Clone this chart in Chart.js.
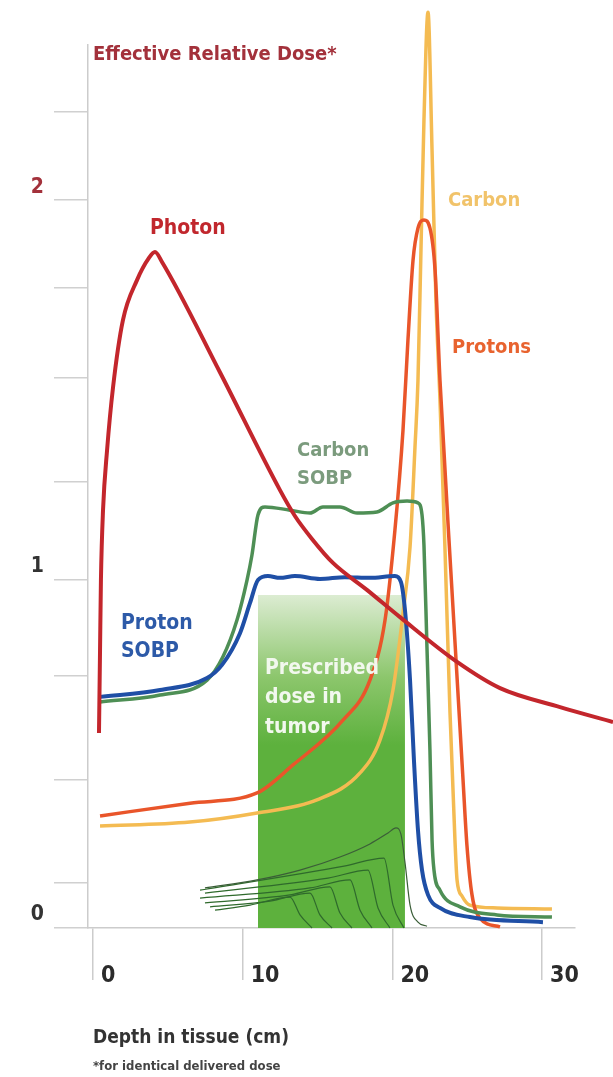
<!DOCTYPE html>
<html>
<head>
<meta charset="utf-8">
<script src="https://cdn.jsdelivr.net/npm/chart.js@4.4.0/dist/chart.umd.min.js"></script>
<style>
  html, body { margin: 0; padding: 0; background: #fff; }
  #wrap { width: 613px; height: 1077px; position: relative; }
</style>
</head>
<body>
<div id="wrap"><canvas id="chart"></canvas></div>
<script>
// ===== Data (depth in cm, effective relative dose) =====
let photonDepth = [0.40, 0.47, 0.53, 0.67, 0.94, 1.34, 2.00, 2.94, 3.74, 4.14, 4.61, 8.48, 12.49, 13.49, 14.63, 16.03, 18.30, 20.51, 24.32, 27.19, 31.20, 34.74];
let photonDose  = [0.536, 0.764, 0.956, 1.148, 1.313, 1.486, 1.670, 1.780, 1.841, 1.857, 1.830, 1.527, 1.203, 1.132, 1.069, 1.003, 0.929, 0.854, 0.731, 0.659, 0.607, 0.566];

let protonSobpDepth = [0.47, 4.48, 7.62, 8.62, 9.82, 10.49, 11.02, 11.69, 12.49, 13.49, 15.16, 16.83, 18.50, 20.17, 20.57, 20.84, 21.18, 21.44, 21.71, 21.98, 22.38, 23.18, 25.18, 30.06];
let protonSobpDose  = [0.635, 0.654, 0.687, 0.723, 0.810, 0.893, 0.956, 0.967, 0.962, 0.967, 0.959, 0.964, 0.962, 0.967, 0.951, 0.874, 0.681, 0.462, 0.269, 0.159, 0.091, 0.055, 0.030, 0.016];

let carbonSobpDepth = [0.47, 4.48, 7.62, 8.68, 9.62, 10.29, 10.62, 11.02, 11.49, 13.16, 14.50, 15.36, 16.50, 17.64, 18.97, 20.04, 20.98, 21.71, 21.98, 22.11, 22.31, 22.51, 22.65, 22.78, 23.18, 24.52, 26.99, 30.66];
let carbonSobpDose  = [0.621, 0.640, 0.681, 0.745, 0.846, 0.956, 1.025, 1.135, 1.157, 1.148, 1.140, 1.157, 1.157, 1.140, 1.143, 1.168, 1.173, 1.168, 1.135, 1.052, 0.772, 0.489, 0.242, 0.159, 0.104, 0.058, 0.036, 0.030];

let carbonDepth = [0.47, 6.48, 10.96, 14.96, 17.84, 19.17, 20.04, 20.71, 21.18, 21.51, 21.71, 21.91, 22.11, 22.38, 22.65, 22.91, 23.18, 23.51, 23.85, 24.18, 24.32, 24.65, 25.18, 26.99, 30.66];
let carbonDose  = [0.280, 0.291, 0.316, 0.352, 0.426, 0.516, 0.654, 0.865, 1.047, 1.321, 1.505, 1.863, 2.220, 2.516, 2.137, 1.725, 1.451, 1.047, 0.591, 0.242, 0.132, 0.088, 0.063, 0.055, 0.052];

let protonDepth = [0.47, 6.48, 10.96, 13.36, 16.70, 18.50, 19.51, 20.17, 20.71, 21.04, 21.38, 21.71, 22.11, 22.51, 22.85, 23.18, 23.98, 24.72, 24.98, 25.32, 25.85, 27.19];
let protonDose  = [0.308, 0.343, 0.371, 0.448, 0.571, 0.681, 0.846, 1.093, 1.368, 1.615, 1.835, 1.923, 1.945, 1.923, 1.808, 1.505, 0.928, 0.407, 0.228, 0.091, 0.027, 0.003];

// prescribed dose region (tumour)
let tumorDepth = [11.02, 20.84];
let tumorDose  = [0.915, 0.915];

// individual pristine peaks that add up to the SOBP
let pristineDepths = [
  [7.48, 10.96, 13.83, 16.50, 18.50, 19.71, 20.24, 20.57, 20.84, 21.18, 21.71, 22.31],
  [8.15, 10.49, 13.16, 13.83, 14.63],
  [7.82, 11.82, 14.50, 15.16, 15.97],
  [7.48, 13.16, 15.83, 16.50, 17.30],
  [7.15, 14.50, 17.17, 17.84, 18.64],
  [7.48, 15.70, 18.37, 19.04, 19.84],
  [7.15, 16.77, 19.44, 20.04, 20.77]
];
let pristineDoses = [
  [0.110, 0.132, 0.159, 0.195, 0.231, 0.261, 0.275, 0.258, 0.181, 0.063, 0.016, 0.005],
  [0.049, 0.063, 0.085, 0.036, 0.000],
  [0.058, 0.074, 0.096, 0.036, 0.000],
  [0.069, 0.091, 0.113, 0.041, 0.000],
  [0.082, 0.110, 0.132, 0.049, 0.000],
  [0.096, 0.137, 0.159, 0.055, 0.000],
  [0.104, 0.170, 0.192, 0.063, 0.000]
];

// axis ticks as placed in the figure
let xTicks = [0, 10, 20, 30];
let yTicks = [0, 0.124, 0.407, 0.692, 0.956, 1.225, 1.511, 1.758, 2.0, 2.242];
let yTickLabels = ["0", "", "", "", "1", "", "", "", "2", ""];

// ===== Helpers =====
const FONT = "'Liberation Sans Narrow', 'DejaVu Sans Condensed', 'Roboto', sans-serif";

function pts(xs, ys) {
  return xs.map((x, i) => ({ x: x, y: ys[i] }));
}

function curve(data, color, width) {
  return {
    data: data,
    borderColor: color,
    borderWidth: width,
    pointRadius: 0,
    fill: false,
    cubicInterpolationMode: "monotone",
    clip: false
  };
}

// ===== Text notes =====
let notes = [
  { text: "Effective Relative Dose*", x: 93, y: 55, size: 20, color: "#a3313b" },
  { text: "Photon", x: 150, y: 229, size: 21, color: "#c1272d" },
  { text: "Carbon", x: 448, y: 201, size: 20, color: "#f1c36a" },
  { text: "Protons", x: 452, y: 348, size: 20, color: "#e8632f" },
  { text: "Carbon", x: 297, y: 451, size: 20, color: "#7b9b7d" },
  { text: "SOBP", x: 297, y: 479, size: 20, color: "#7b9b7d" },
  { text: "Proton", x: 121, y: 624, size: 21, color: "#2d5aa8" },
  { text: "SOBP", x: 121, y: 652, size: 21, color: "#2d5aa8" },
  { text: "Prescribed", x: 265, y: 669, size: 21, color: "#f2f8ee" },
  { text: "dose in", x: 265, y: 698, size: 21, color: "#f2f8ee" },
  { text: "tumor", x: 265, y: 728, size: 21, color: "#f2f8ee" },
  { text: "Depth in tissue (cm)", x: 93, y: 1038, size: 19, color: "#333333" },
  { text: "*for identical delivered dose", x: 93, y: 1067, size: 13, color: "#444444" }
];

const notesPlugin = {
  id: "notes",
  afterDraw(chart) {
    let c = chart.ctx;
    c.save();
    c.textAlign = "left";
    c.textBaseline = "middle";
    notes.forEach(n => {
      c.font = "bold " + n.size + "px " + FONT;
      c.fillStyle = n.color;
      c.fillText(n.text, n.x, n.y);
    });
    c.restore();
  }
};

// ===== Datasets (first one is drawn on top) =====
let datasets = [
  curve(pts(photonDepth, photonDose), "#c3262c", 4),
  curve(pts(protonSobpDepth, protonSobpDose), "#1f4fa6", 4),
  curve(pts(carbonSobpDepth, carbonSobpDose), "#4e8f55", 3.5),
  curve(pts(protonDepth, protonDose), "#e9552a", 3.5),
  curve(pts(carbonDepth, carbonDose), "#f4bb52", 3.5)
];

pristineDepths.forEach((d, i) => {
  datasets.push(curve(pts(d, pristineDoses[i]), i === 0 ? "#3b5e38" : "#2f6a2c", 1.2));
});

datasets.push({
  data: pts(tumorDepth, tumorDose),
  borderWidth: 0,
  pointRadius: 0,
  fill: "origin",
  backgroundColor: ctx => {
    let chart = ctx.chart;
    if (!chart.chartArea) return "#5db13d";
    let top = chart.scales.y.getPixelForValue(tumorDose[0]);
    let g = chart.ctx.createLinearGradient(0, top, 0, top + 150);
    g.addColorStop(0, "#dcecd2");
    g.addColorStop(0.55, "#8cc66c");
    g.addColorStop(1, "#5db13d");
    return g;
  }
});

// ===== Chart =====
new Chart(document.getElementById("chart"), {
  type: "line",
  data: { datasets: datasets },
  plugins: [notesPlugin],
  options: {
    responsive: true,
    maintainAspectRatio: false,
    animation: false,
    layout: { padding: { top: 45, right: 38, left: 0, bottom: 0 } },
    plugins: { legend: { display: false }, tooltip: { enabled: false } },
    scales: {
      x: {
        type: "linear",
        min: -0.334,
        max: 32.2,
        afterFit: s => { s.height = 149; },
        afterBuildTicks: s => { s.ticks = xTicks.map(v => ({ value: v })); },
        grid: { drawOnChartArea: false, tickLength: 52, color: "#cccccc", lineWidth: 1.5 },
        border: { color: "#cccccc", width: 1.5 },
        ticks: {
          align: "start",
          labelOffset: 8,
          padding: -18,
          color: "#2b2b2b",
          font: { family: FONT, size: 23, weight: "bold" }
        }
      },
      y: {
        type: "linear",
        min: 0,
        max: 2.426,
        afterFit: s => { s.width = 88; },
        afterBuildTicks: s => { s.ticks = yTicks.map(v => ({ value: v })); },
        grid: { drawOnChartArea: false, tickLength: 34, color: "#d0d0d0", lineWidth: 1.5 },
        border: { color: "#cccccc", width: 1.5 },
        ticks: {
          padding: 10,
          labelOffset: -13,
          color: ctx => ctx.tick && ctx.tick.value === 2 ? "#a3313b" : "#333333",
          font: { family: FONT, size: 21, weight: "bold" },
          callback: (v, i) => yTickLabels[i]
        }
      }
    }
  }
});
</script>
</body>
</html>
